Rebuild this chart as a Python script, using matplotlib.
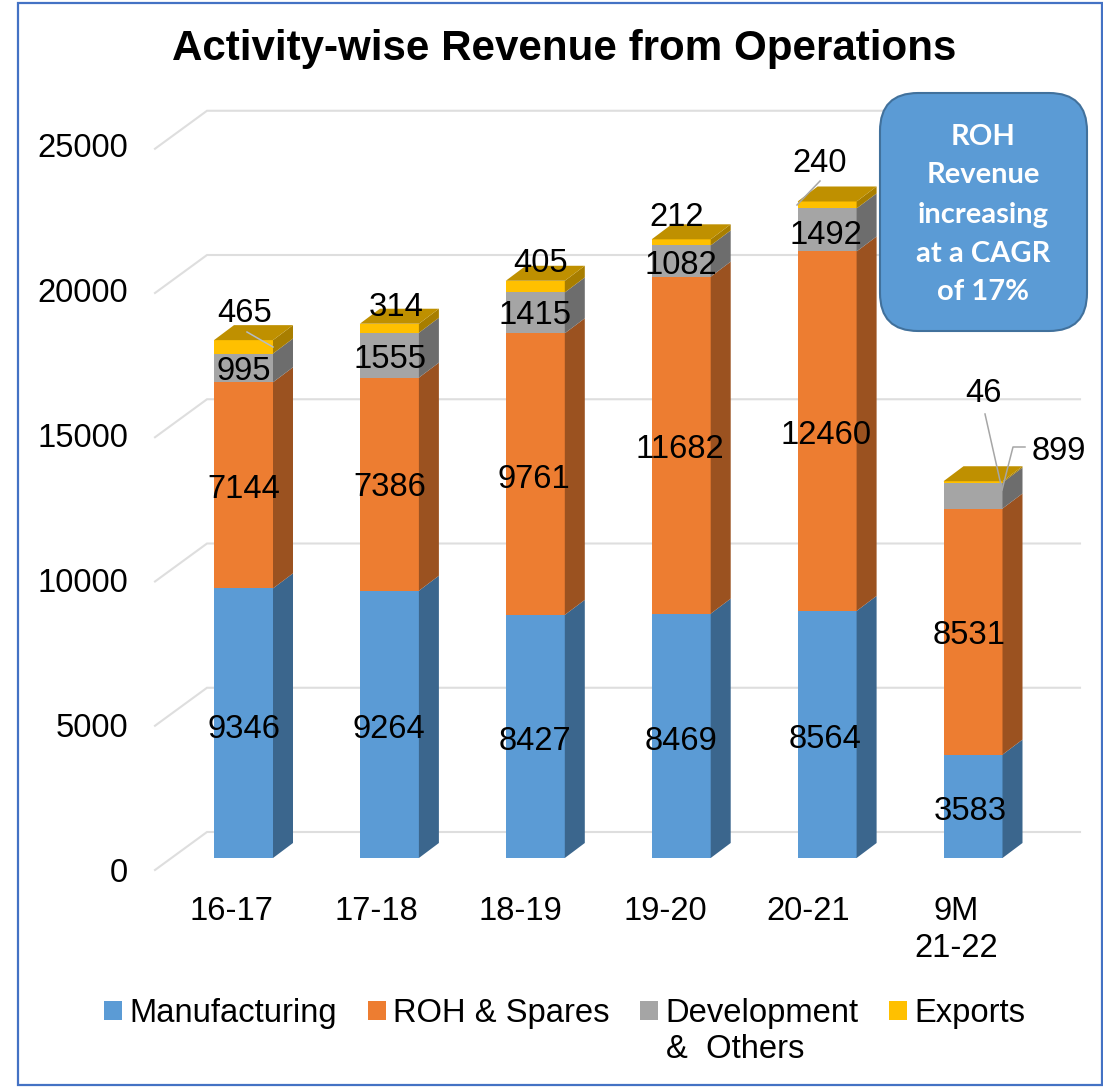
import matplotlib
matplotlib.use("Agg")
import matplotlib.pyplot as plt
from matplotlib.patches import Polygon, Patch, FancyBboxPatch, Rectangle
from matplotlib.transforms import ScaledTranslation

plt.rcParams['font.family'] = ['Liberation Sans', 'DejaVu Sans']

categories = ['16-17', '17-18', '18-19', '19-20', '20-21', '9M\n21-22']
manufacturing = [9346, 9264, 8427, 8469, 8564, 3583]
roh_spares = [7144, 7386, 9761, 11682, 12460, 8531]
development = [995, 1555, 1415, 1082, 1492, 899]
exports = [465, 314, 405, 212, 240, 46]
series_names = ['Manufacturing', 'ROH & Spares', 'Development', 'Exports']
y_ticks = [0, 5000, 10000, 15000, 20000, 25000]

W, H = 1103, 1090
FS = 23.6
fig = plt.figure(figsize=(W / 100, H / 100), dpi=100, facecolor='white')

# main axes: value 0 at pixel row 858, categories spaced about 146 px
PX_PER_VAL = 0.02885
PX_PER_CAT = 145.9
AX_L, AX_R, AX_B = 155, 1080, 858
AX_T = AX_B - 25000 * PX_PER_VAL
ax = fig.add_axes([AX_L / W, 1 - AX_B / H, (AX_R - AX_L) / W, (AX_B - AX_T) / H])
ax.set_xlim((AX_L - 243.5) / PX_PER_CAT, (AX_R - 243.5) / PX_PER_CAT)
ax.set_ylim(0, 25000)
for s in ax.spines.values():
    s.set_visible(False)
ax.patch.set_alpha(0)

dx = 20 / PX_PER_CAT          # bar depth
dy = 15 / PX_PER_VAL
half = 29.5 / PX_PER_CAT      # half bar width
xs = list(range(len(categories)))

# 3-D style floor/wall gridlines
x0, x1 = ax.get_xlim()
xb = (207 - 243.5) / PX_PER_CAT
for v in y_ticks:
    ax.plot([x0, xb, x1], [v - 12 / PX_PER_VAL, v + 26 / PX_PER_VAL, v + 26 / PX_PER_VAL],
            color='#DEDEDE', lw=1.5, clip_on=False, zorder=1, solid_joinstyle='miter')

front = ['#5B9BD5', '#ED7D31', '#A5A5A5', '#FFC000']
side = ['#3B668D', '#9B5220', '#6D6D6D', '#A87E00']
top_col = '#BF9000'
stack = [manufacturing, roh_spares, development, exports]
for i, x in enumerate(xs):
    base = 0
    for vals, fc, sc in zip(stack, front, side):
        v = vals[i]
        ax.add_patch(Rectangle((x - half, base), 2 * half, v, fc=fc, ec='none', zorder=3, clip_on=False))
        ax.add_patch(Polygon([(x + half, base), (x + half + dx, base + dy),
                              (x + half + dx, base + v + dy), (x + half, base + v)],
                             fc=sc, ec='none', zorder=3, clip_on=False))
        base += v
    ax.add_patch(Polygon([(x - half, base), (x + half, base), (x + half + dx, base + dy),
                          (x - half + dx, base + dy)], fc=top_col, ec='none', zorder=3, clip_on=False))

# tick labels
ax.set_yticks(y_ticks)
ax.set_yticklabels([str(v) for v in y_ticks], fontsize=FS)
ax.tick_params(axis='y', length=0, pad=19.5)
ax.set_xticks(xs)
ax.set_xticklabels(categories, fontsize=FS, linespacing=1.23)
ax.tick_params(axis='x', length=0, pad=27.5)
for lab, off in zip(ax.get_yticklabels(), [-12, -11, -10, -10, -9, -8]):
    lab.set_transform(lab.get_transform() + ScaledTranslation(0, off / 100, fig.dpi_scale_trans))
for lab, off in zip(ax.get_xticklabels(), [-12.5, -13.5, -15, -16, -18.5, -17]):
    lab.set_transform(lab.get_transform() + ScaledTranslation(off / 100, 0, fig.dpi_scale_trans))

# legend
handles = [Patch(fc=c, ec='none') for c in front]
ax.legend(handles, series_names, ncol=4, frameon=False, fontsize=FS, loc='upper left',
          bbox_to_anchor=(104 / W, 1 - 998 / H), bbox_transform=fig.transFigure, borderpad=0,
          borderaxespad=0, handlelength=0.55, handleheight=0.55, handletextpad=0.225,
          columnspacing=0.93)

# overlay in pixel coordinates for annotation text
ann = fig.add_axes([0, 0, 1, 1])
ann.set_xlim(0, W)
ann.set_ylim(H, 0)
ann.axis('off')
ann.patch.set_alpha(0)

ann.add_patch(Rectangle((18, 3), 1084, 1082, fc='none', ec='#4472C4', lw=1.6))
ann.text(564, 49, 'Activity-wise Revenue from Operations', fontsize=30.35, fontweight='bold',
         ha='center', va='center', color='black')
ann.text(666, 1050, '&  Others', fontsize=FS, ha='left', va='center')

label_pos = {
    0: [(244, 729), (389, 729), (535, 741), (681, 741), (825, 739), (970, 811)],
    1: [(244, 490), (390, 488), (534, 479), (680, 450), (826, 435), (969, 636)],
    2: [(244, 372), (390, 360), (535, 316), (681, 265), (826, 235), (1059, 451)],
    3: [(245, 314), (396, 308), (541, 263), (677, 218), (820, 163), (984, 394)],
}
for k, vals in enumerate(stack):
    for (px, py), v in zip(label_pos[k], vals):
        ann.text(px, py, str(v), fontsize=FS, ha='center', va='center', color='black', zorder=6)

# leader lines
for path, c in [([(247, 332), (273, 347)], '#B4BCC8'),
                ([(820, 181), (797, 205)], '#A6A6A6'),
                ([(985, 414), (1001, 485)], '#A6A6A6'),
                ([(1025, 447), (1013, 447), (1002, 490)], '#A6A6A6')]:
    ann.plot(*zip(*path), color=c, lw=1.1, zorder=5)

# callout
r = 38
ann.add_patch(FancyBboxPatch((880 + r, 93 + r), 207 - 2 * r, 238 - 2 * r,
                             boxstyle=f'round,pad={r},rounding_size={r}',
                             fc='#5B9BD5', ec='#41719C', lw=1.5, zorder=7))
for txt, py in zip(['ROH', 'Revenue', 'increasing', 'at a CAGR', 'of 17%'],
                   [137, 175, 215, 254, 292]):
    ann.text(983, py, txt, fontsize=21, fontweight='bold', family='Lato', color='white',
             ha='center', va='center', zorder=8)

fig.savefig('out.png', dpi=100, facecolor='white')
